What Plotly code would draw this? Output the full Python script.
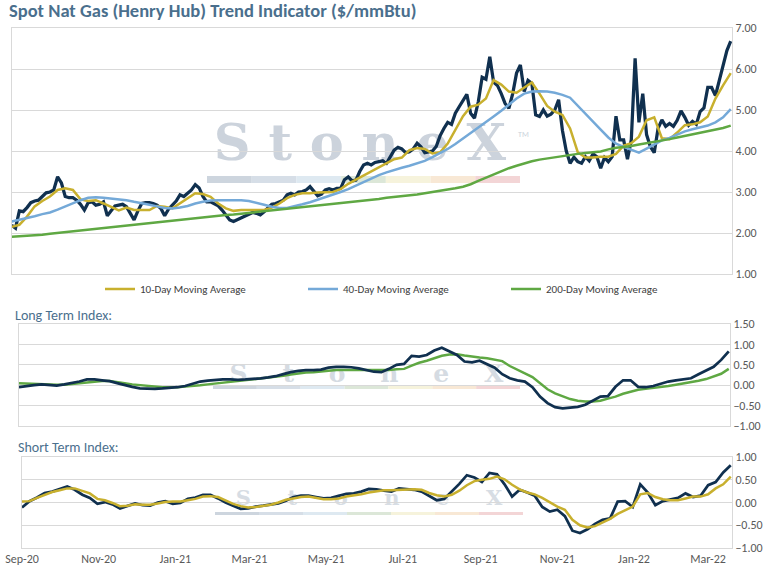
import pandas as pd
import plotly.graph_objects as go

# sampling grids: price every 3 days, everything else every 6 days
dates3 = pd.date_range("2020-09-01", periods=189, freq="3D")
dates6 = dates3[::2]

spot_price = [
    2.19, 2.12, 2.54, 2.52, 2.62, 2.74, 2.78, 2.80, 2.89, 2.98,
    3.00, 3.05, 3.37, 3.22, 2.89, 2.86, 2.86, 2.80, 2.70, 2.56,
    2.74, 2.76, 2.68, 2.70, 2.76, 2.42, 2.54, 2.66, 2.68, 2.70,
    2.64, 2.46, 2.32, 2.54, 2.72, 2.74, 2.74, 2.72, 2.68, 2.60,
    2.42, 2.58, 2.68, 2.78, 2.93, 2.89, 2.97, 3.05, 3.18, 3.10,
    2.89, 2.76, 2.76, 2.72, 2.66, 2.56, 2.44, 2.32, 2.28, 2.32,
    2.36, 2.42, 2.46, 2.50, 2.48, 2.44, 2.52, 2.62, 2.70, 2.72,
    2.76, 2.80, 2.93, 2.97, 2.93, 3.00, 3.01, 3.05, 3.13, 3.03,
    2.91, 2.95, 3.05, 3.08, 3.05, 3.09, 3.09, 3.30, 3.37, 3.27,
    3.29, 3.50, 3.66, 3.70, 3.66, 3.72, 3.74, 3.76, 3.70, 3.86,
    4.02, 4.09, 4.05, 3.96, 3.98, 4.05, 4.19, 4.10, 3.96, 3.98,
    4.00, 4.11, 4.37, 4.55, 4.70, 4.65, 4.92, 5.08, 5.24, 5.38,
    4.92, 4.80, 5.20, 5.80, 5.75, 6.30, 5.68, 5.60, 5.40, 5.16,
    5.04, 5.40, 5.90, 6.10, 5.45, 5.72, 5.65, 4.88, 4.84, 5.00,
    4.85, 4.90, 5.00, 5.25, 4.50, 4.00, 3.70, 3.85, 3.74, 3.70,
    3.86, 3.76, 3.93, 3.86, 3.58, 3.84, 3.74, 3.86, 4.85, 4.27,
    4.27, 3.80, 4.27, 6.26, 4.70, 5.40, 4.40, 4.10, 3.96, 4.55,
    4.76, 4.60, 4.67, 4.60, 4.75, 4.98, 4.82, 4.63, 4.72, 4.65,
    4.96, 5.05, 5.55, 5.55, 5.35, 5.70, 6.10, 6.45, 6.68,
]

ma10 = [
    2.15, 2.20, 2.40, 2.65, 2.78, 2.89, 3.05, 3.09, 3.05, 2.82,
    2.78, 2.80, 2.72, 2.63, 2.55, 2.62, 2.56, 2.56, 2.56, 2.66,
    2.64, 2.60, 2.72, 2.85, 2.97, 2.95, 2.88, 2.72, 2.60, 2.54,
    2.56, 2.56, 2.56, 2.56, 2.62, 2.72, 2.85, 2.93, 2.97, 2.97,
    2.99, 2.99, 3.00, 3.07, 3.20, 3.30, 3.40, 3.52, 3.62, 3.70,
    3.80, 3.84, 4.02, 4.07, 4.05, 3.94, 3.97, 4.18, 4.51, 4.85,
    5.08, 5.13, 5.28, 5.73, 5.62, 5.45, 5.42, 5.55, 5.67, 5.40,
    5.10, 4.96, 4.88, 4.55, 3.97, 3.84, 3.84, 3.86, 3.86, 3.93,
    4.13, 4.19, 4.35, 4.75, 4.82, 4.31, 4.29, 4.45, 4.63, 4.65,
    4.70, 4.84, 5.28, 5.60, 5.90,
]

ma40 = [
    2.28, 2.32, 2.37, 2.41, 2.46, 2.50, 2.57, 2.65, 2.72, 2.80,
    2.86, 2.87, 2.86, 2.84, 2.83, 2.80, 2.76, 2.73, 2.69, 2.65,
    2.61, 2.60, 2.62, 2.66, 2.72, 2.76, 2.79, 2.80, 2.80, 2.80,
    2.80, 2.78, 2.74, 2.69, 2.64, 2.61, 2.61, 2.65, 2.70, 2.75,
    2.81, 2.87, 2.93, 3.00, 3.07, 3.16, 3.25, 3.33, 3.41, 3.48,
    3.54, 3.59, 3.64, 3.70, 3.76, 3.85, 3.94, 4.05, 4.17, 4.30,
    4.43, 4.56, 4.70, 4.84, 4.98, 5.14, 5.28, 5.40, 5.45, 5.46,
    5.45, 5.42, 5.37, 5.30, 5.10, 4.90, 4.72, 4.52, 4.33, 4.18,
    4.10, 4.02, 3.96, 4.06, 4.15, 4.26, 4.32, 4.40, 4.48, 4.53,
    4.57, 4.62, 4.70, 4.82, 5.02,
]

ma200 = [
    1.91, 1.92, 1.93, 1.94, 1.96, 1.98, 2.00, 2.03, 2.05, 2.07,
    2.09, 2.11, 2.13, 2.15, 2.17, 2.18, 2.20, 2.22, 2.24, 2.26,
    2.28, 2.30, 2.32, 2.34, 2.36, 2.38, 2.40, 2.42, 2.44, 2.45,
    2.47, 2.49, 2.51, 2.52, 2.55, 2.57, 2.59, 2.61, 2.62, 2.64,
    2.66, 2.68, 2.70, 2.72, 2.74, 2.76, 2.79, 2.81, 2.83, 2.86,
    2.88, 2.89, 2.91, 2.94, 2.97, 3.00, 3.03, 3.05, 3.09, 3.13,
    3.19, 3.27, 3.35, 3.43, 3.50, 3.58, 3.64, 3.70, 3.75, 3.79,
    3.82, 3.85, 3.88, 3.90, 3.93, 3.95, 3.97, 3.99, 4.04, 4.08,
    4.10, 4.12, 4.16, 4.19, 4.22, 4.26, 4.29, 4.33, 4.37, 4.40,
    4.44, 4.48, 4.52, 4.56, 4.62,
]

long_index = [
    -0.05, -0.02, 0.00, 0.02, 0.00, -0.01, 0.02, 0.05, 0.09, 0.14,
    0.14, 0.12, 0.10, 0.05, 0.00, -0.04, -0.08, -0.09, -0.09, -0.08,
    -0.07, -0.05, -0.02, 0.04, 0.09, 0.11, 0.13, 0.14, 0.14, 0.13,
    0.14, 0.15, 0.17, 0.19, 0.22, 0.27, 0.32, 0.35, 0.37, 0.37,
    0.38, 0.43, 0.45, 0.45, 0.44, 0.41, 0.37, 0.33, 0.32, 0.40,
    0.50, 0.52, 0.72, 0.70, 0.74, 0.85, 0.92, 0.84, 0.74, 0.58,
    0.56, 0.60, 0.52, 0.43, 0.27, 0.17, 0.12, 0.09, -0.05, -0.28,
    -0.44, -0.54, -0.57, -0.55, -0.53, -0.48, -0.37, -0.28, -0.27, -0.04,
    0.12, 0.12, -0.04, -0.05, -0.02, 0.04, 0.09, 0.12, 0.14, 0.17,
    0.27, 0.36, 0.45, 0.62, 0.83,
]

long_signal = [
    0.05, 0.04, 0.03, 0.03, 0.02, 0.01, 0.01, 0.03, 0.05, 0.07,
    0.09, 0.10, 0.10, 0.08, 0.05, 0.02, 0.00, -0.02, -0.04, -0.05,
    -0.05, -0.05, -0.03, -0.02, 0.00, 0.02, 0.04, 0.06, 0.08, 0.11,
    0.13, 0.15, 0.16, 0.19, 0.21, 0.23, 0.26, 0.29, 0.31, 0.32,
    0.34, 0.35, 0.37, 0.37, 0.37, 0.37, 0.37, 0.36, 0.36, 0.37,
    0.39, 0.40, 0.48, 0.55, 0.60, 0.66, 0.72, 0.75, 0.76, 0.73,
    0.70, 0.68, 0.66, 0.63, 0.59, 0.47, 0.37, 0.29, 0.20, 0.05,
    -0.10, -0.20, -0.28, -0.34, -0.38, -0.40, -0.40, -0.38, -0.33, -0.28,
    -0.21, -0.16, -0.11, -0.09, -0.07, -0.05, -0.02, 0.01, 0.04, 0.07,
    0.11, 0.15, 0.21, 0.28, 0.40,
]

short_index = [
    -0.11, 0.03, 0.11, 0.21, 0.24, 0.30, 0.35, 0.28, 0.17, 0.10,
    -0.03, 0.01, -0.04, -0.13, -0.07, -0.02, -0.06, -0.07, 0.00, 0.03,
    -0.03, -0.01, 0.08, 0.11, 0.17, 0.17, 0.09, 0.00, -0.07, -0.14,
    -0.13, -0.09, -0.07, -0.05, -0.02, 0.04, 0.12, 0.15, 0.15, 0.12,
    0.09, 0.10, 0.14, 0.19, 0.20, 0.24, 0.30, 0.29, 0.26, 0.24,
    0.31, 0.30, 0.28, 0.24, 0.15, 0.05, 0.08, 0.24, 0.41, 0.60,
    0.55, 0.45, 0.65, 0.62, 0.40, 0.13, 0.28, 0.22, 0.15, -0.10,
    -0.20, -0.16, -0.30, -0.62, -0.67, -0.59, -0.47, -0.38, -0.35, 0.02,
    0.03, -0.10, 0.40, 0.22, -0.06, 0.03, 0.07, 0.10, 0.20, 0.12,
    0.15, 0.38, 0.45, 0.66, 0.82,
]

short_signal = [
    0.02, 0.03, 0.10, 0.17, 0.23, 0.27, 0.31, 0.31, 0.25, 0.20,
    0.08, 0.05, -0.01, -0.08, -0.07, -0.04, -0.05, -0.05, -0.02, 0.01,
    0.02, 0.02, 0.05, 0.08, 0.13, 0.14, 0.12, 0.04, -0.03, -0.08,
    -0.11, -0.10, -0.08, -0.05, 0.00, 0.06, 0.09, 0.12, 0.13, 0.10,
    0.07, 0.07, 0.09, 0.13, 0.15, 0.18, 0.22, 0.24, 0.27, 0.27,
    0.28, 0.29, 0.29, 0.28, 0.21, 0.16, 0.13, 0.17, 0.26, 0.38,
    0.47, 0.50, 0.52, 0.57, 0.51, 0.39, 0.29, 0.22, 0.18, 0.10,
    0.00, -0.09, -0.16, -0.38, -0.50, -0.55, -0.52, -0.44, -0.36, -0.25,
    -0.17, -0.09, 0.18, 0.21, 0.12, 0.07, 0.05, 0.05, 0.09, 0.13,
    0.13, 0.18, 0.31, 0.40, 0.57,
]

NAVY = "#10304f"
GOLD = "#c8b02e"
BLUE = "#74a9d8"
GREEN = "#5fa843"
TITLE_C = "#4a6f8d"
TEXT_C = "#595959"
GRID_C = "#d9d9d9"
FONT = "Calibri, Carlito, Lato, sans-serif"
W, H = 776, 574


def px(x):
    return x / W


def py(y):
    return 1 - y / H


fig = go.Figure()
fig.add_trace(go.Scatter(x=dates3, y=spot_price, mode="lines", name="Spot",
                         line=dict(color=NAVY, width=3.25), showlegend=False))
fig.add_trace(go.Scatter(x=dates6, y=ma10, mode="lines", name="10-Day Moving Average",
                         line=dict(color=GOLD, width=2.5)))
fig.add_trace(go.Scatter(x=dates6, y=ma40, mode="lines", name="40-Day Moving Average",
                         line=dict(color=BLUE, width=2.5)))
fig.add_trace(go.Scatter(x=dates6, y=ma200, mode="lines", name="200-Day Moving Average",
                         line=dict(color=GREEN, width=2.5)))
fig.add_trace(go.Scatter(x=dates6, y=long_signal, mode="lines", xaxis="x2", yaxis="y2",
                         line=dict(color=GREEN, width=2.5), showlegend=False))
fig.add_trace(go.Scatter(x=dates6, y=long_index, mode="lines", xaxis="x2", yaxis="y2",
                         line=dict(color=NAVY, width=2.75), showlegend=False))
fig.add_trace(go.Scatter(x=dates6, y=short_index, mode="lines", xaxis="x3", yaxis="y3",
                         line=dict(color=NAVY, width=2.75), showlegend=False))
fig.add_trace(go.Scatter(x=dates6, y=short_signal, mode="lines", xaxis="x3", yaxis="y3",
                         line=dict(color=GOLD, width=2.5), showlegend=False))

xrange_ = ["2020-09-01", "2022-03-20"]
box = dict(showline=True, mirror=True, linecolor=GRID_C, linewidth=1, zeroline=False,
           automargin=False)
xcommon = dict(type="date", range=xrange_, showgrid=False, ticks="", **box)
ycommon = dict(side="right", tickformat=".2f", gridcolor=GRID_C, ticks="",
               tickfont=dict(size=12, color=TEXT_C, family=FONT), **box)

fig.update_layout(
    width=W, height=H,
    margin=dict(l=0, r=0, t=0, b=0, autoexpand=False),
    paper_bgcolor="white", plot_bgcolor="rgba(0,0,0,0)",
    font=dict(family=FONT, color=TEXT_C),
    xaxis=dict(domain=[px(11.7), px(732)], anchor="y", showticklabels=False, **xcommon),
    yaxis=dict(domain=[py(274), py(28)], range=[1, 7], dtick=1, anchor="x", **ycommon),
    xaxis2=dict(domain=[px(19), px(730)], anchor="y2", showticklabels=False, **xcommon),
    yaxis2=dict(domain=[py(426), py(324)], range=[-1, 1.5], dtick=0.5, anchor="x2", **ycommon),
    xaxis3=dict(domain=[px(22), px(732)], anchor="y3", tickformat="%b-%y", dtick="M2",
                tick0="2020-09-01", tickfont=dict(size=12, color=TEXT_C, family=FONT), **xcommon),
    yaxis3=dict(domain=[py(548), py(457)], range=[-1, 1], dtick=0.5, anchor="x3", **ycommon),
    # short tick marks along the top edge of the lower panel
    xaxis4=dict(type="date", range=xrange_, overlaying="x3", anchor="y3", side="top",
                domain=[px(22), px(732)], dtick="M2", tick0="2020-09-01",
                ticks="inside", ticklen=3, tickcolor=GRID_C, showticklabels=False,
                showgrid=False, showline=False, zeroline=False, automargin=False),
    legend=dict(orientation="h", x=px(100), y=py(289), xanchor="left", yanchor="middle",
                entrywidth=158, entrywidthmode="pixels", itemwidth=30,
                font=dict(size=11, color="#404040", family=FONT), bgcolor="rgba(0,0,0,0)"),
    showlegend=True,
)

# titles
fig.add_annotation(text="<b>Spot Nat Gas (Henry Hub) Trend Indicator ($/mmBtu)</b>",
                   x=px(7), y=py(11), xref="paper", yref="paper", xanchor="left", yanchor="middle",
                   showarrow=False, font=dict(size=18.5, color=TITLE_C, family=FONT))
fig.add_annotation(text="Long Term Index:", x=px(13), y=py(315), xref="paper", yref="paper",
                   xanchor="left", yanchor="middle", showarrow=False,
                   font=dict(size=14, color=TITLE_C, family=FONT))
fig.add_annotation(text="Short Term Index:", x=px(16), y=py(447), xref="paper", yref="paper",
                   xanchor="left", yanchor="middle", showarrow=False,
                   font=dict(size=14, color=TITLE_C, family=FONT))

# StoneX watermarks (decoration behind the lines)
bar_colors = ["#cdd5de", "#d6dee7", "#dee9f1", "#dce7d8", "#f6f3dc", "#f8e8d5", "#f3d5d6"]
marks = [
    # x0, x1, text top, text bottom, bar top, bar bottom, font size, weight, text, color
    (200, 520, 112, 166, 176, 183, 51, "bold", "S t o n e X", "#ccd3dc"),
    (213, 520, 356, 386, 386, 389, 25, "bold", "S    t    o    n    e    X", "#d5dbe2"),
    (215, 523, 485, 507, 512, 515, 21, "bold", "S     t     o     n     e     X", "#d7dde4"),
]
for x0, x1, t0, t1, b0, b1, fs, wt, txt, col in marks:
    fig.add_shape(type="rect", xref="paper", yref="paper", layer="below",
                  x0=px(x0), x1=px(x1), y0=py(t1), y1=py(t0),
                  line=dict(width=0), fillcolor="rgba(0,0,0,0)",
                  label=dict(text=txt, textposition="middle center",
                             font=dict(size=fs, color=col, family="DejaVu Serif", weight=wt)))
for x0, x1, t0, t1, b0, b1, fs, wt, txt, col in marks:
    x0 = max(x0, 207)
    seg = (x1 - x0) / len(bar_colors)
    for i, c in enumerate(bar_colors):
        fig.add_shape(type="rect", xref="paper", yref="paper", layer="below",
                      x0=px(x0 + i * seg), x1=px(x0 + (i + 1) * seg), y0=py(b1), y1=py(b0),
                      line=dict(width=0), fillcolor=c)
fig.add_annotation(text="TM", x=px(531), y=py(127), xref="paper", yref="paper",
                   showarrow=False, font=dict(size=8, color="#c9d1da", family=FONT))

fig.write_html("out.html", config={"displayModeBar": False},
               post_script="document.body.style.margin='0';")
